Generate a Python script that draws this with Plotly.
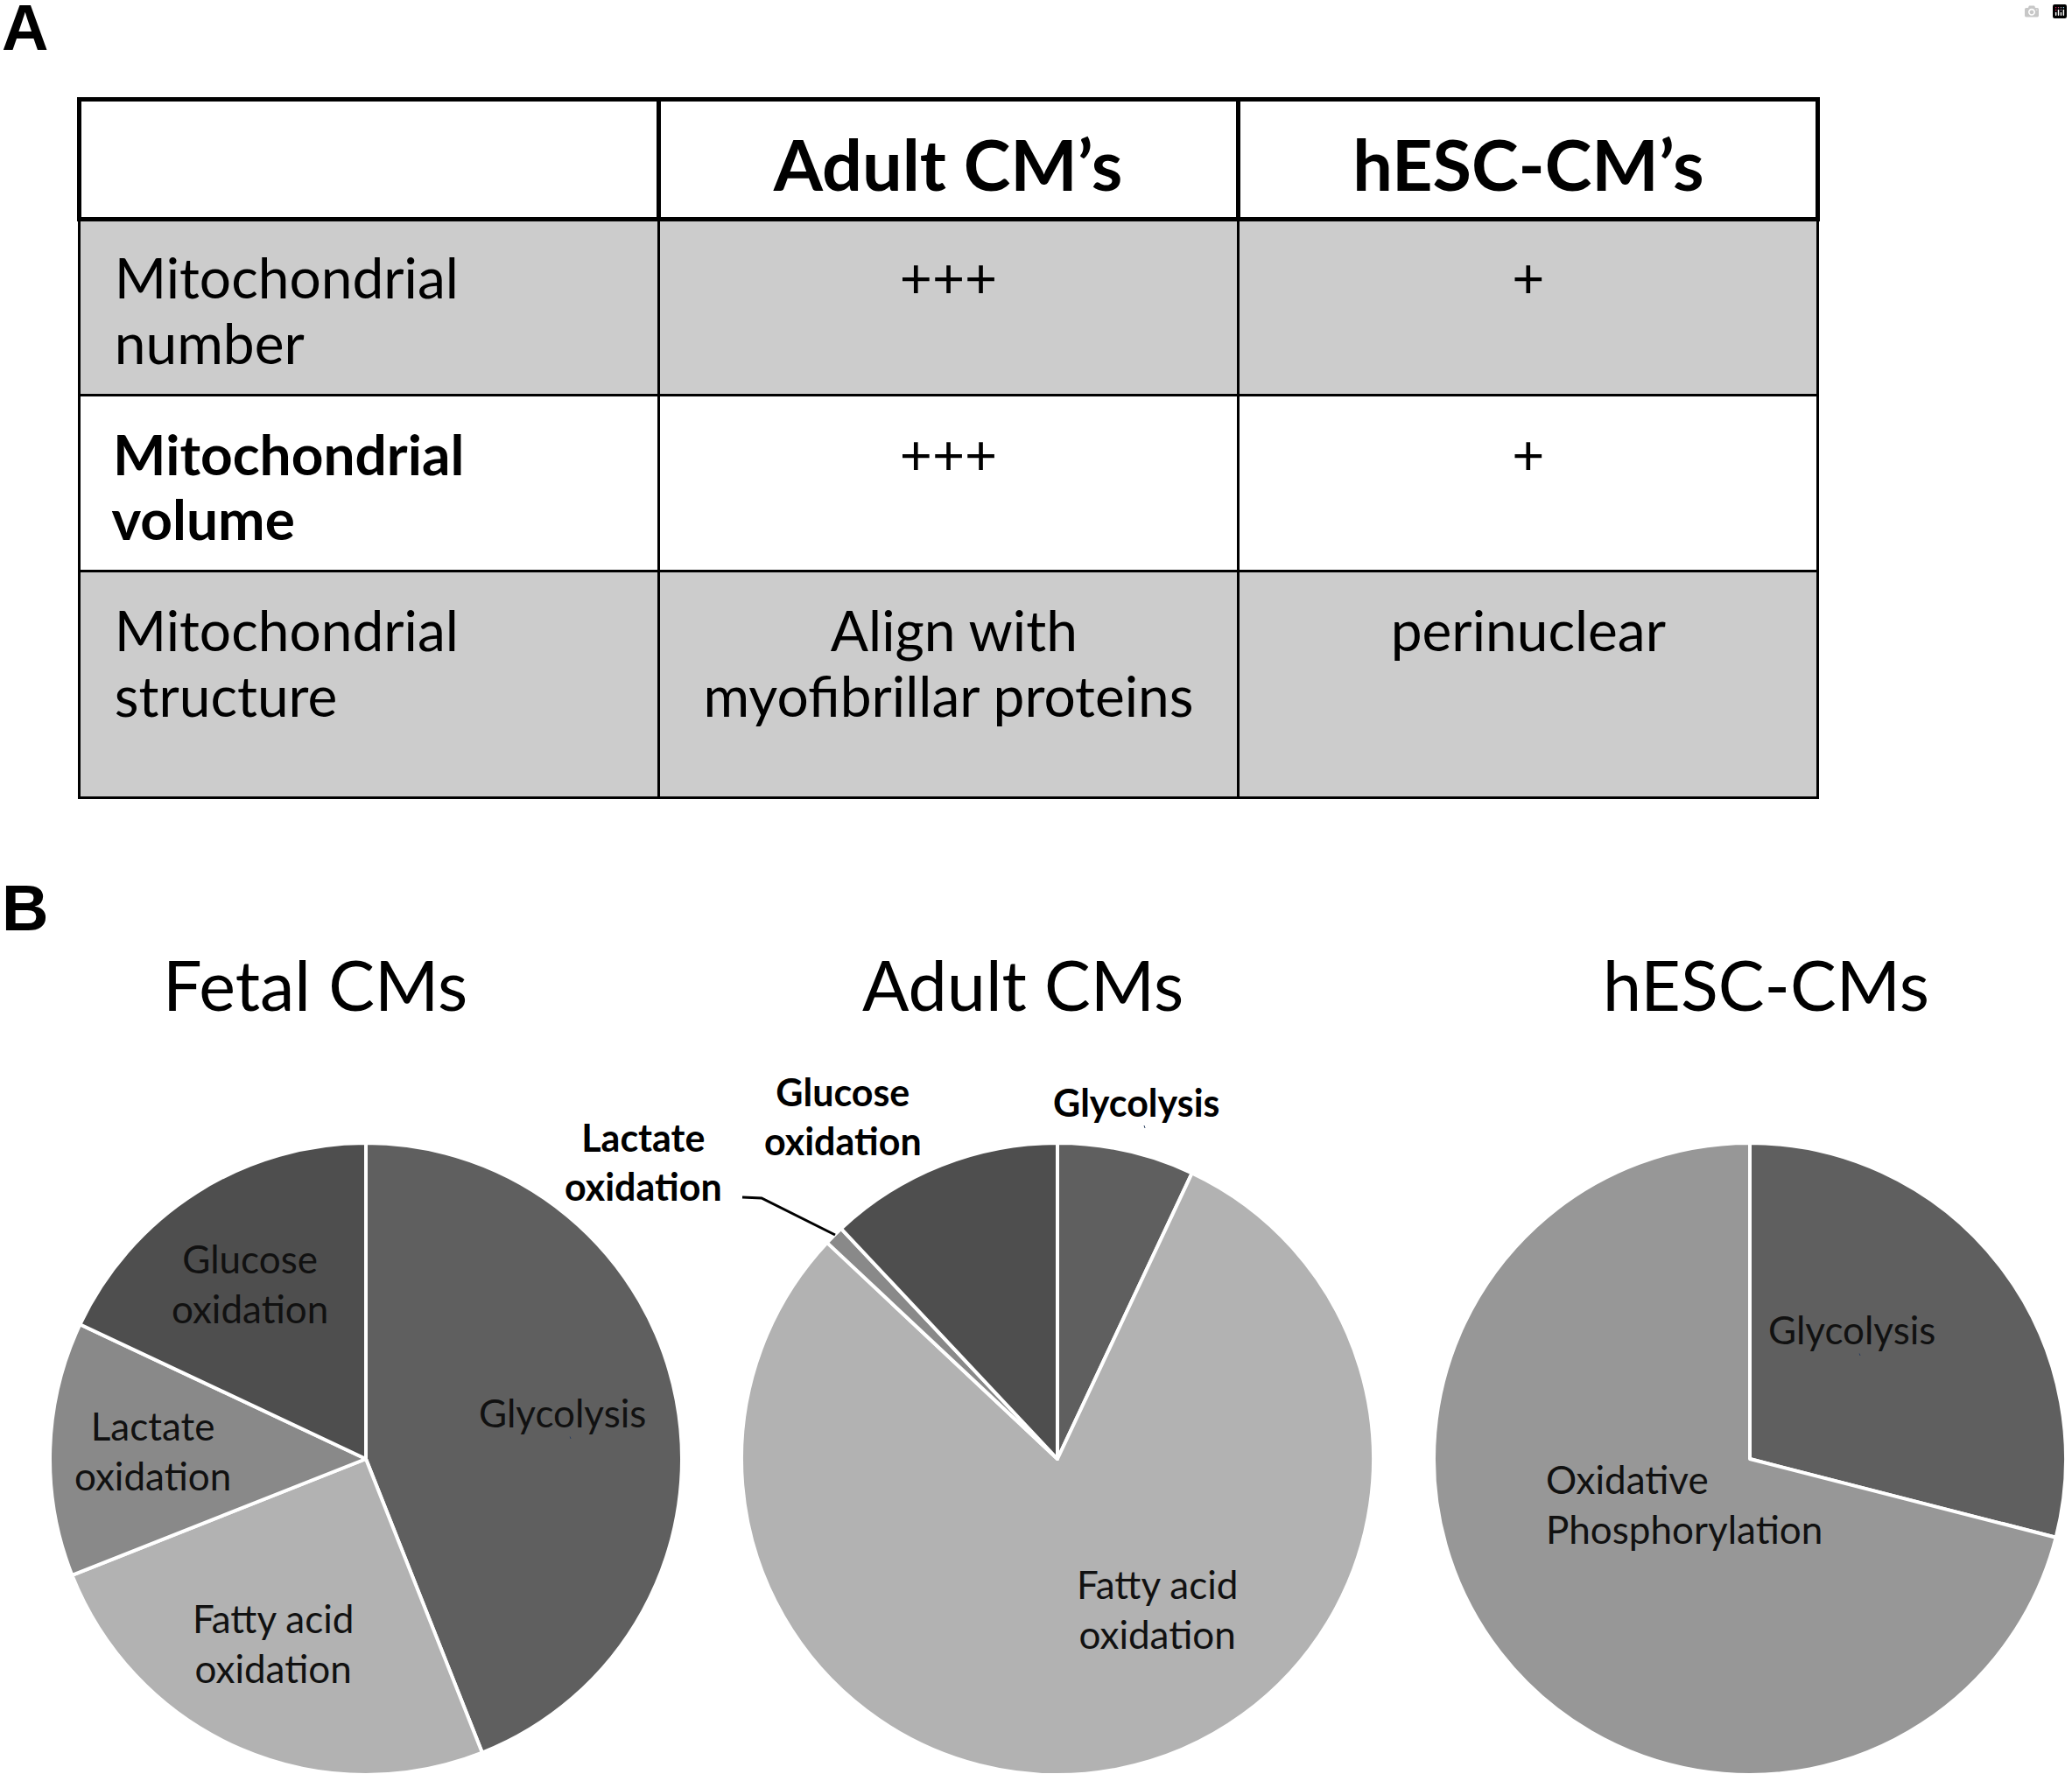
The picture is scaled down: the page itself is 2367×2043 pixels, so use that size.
import plotly.graph_objects as go

W, H = 2367, 2043

# ---------------- data ----------------
table_header = ["", "Adult CM’s", "hESC-CM’s"]
row_labels = [["Mitochondrial", "number"], ["Mitochondrial", "volume"], ["Mitochondrial", "structure"]]
row_bold = [False, True, False]
adult_col = [["+++"], ["+++"], ["Align with", "myofibrillar proteins"]]
hesc_col = [["+"], ["+"], ["perinuclear"]]

fetal_labels = ["Glycolysis", "Fatty acid oxidation", "Lactate oxidation", "Glucose oxidation"]
fetal_values = [44, 25, 13, 18]
adult_labels = ["Glycolysis", "Fatty acid oxidation", "Lactate oxidation", "Glucose oxidation"]
adult_values = [7, 80, 1, 12]
hesc_labels = ["Glycolysis", "Oxidative Phosphorylation"]
hesc_values = [29, 71]

pie_titles = ["Fetal CMs", "Adult CMs", "hESC-CMs"]

colors = {
    "Glycolysis": "#5f5f5f",
    "Fatty acid oxidation": "#b2b2b2",
    "Lactate oxidation": "#898989",
    "Glucose oxidation": "#4e4e4e",
    "Oxidative Phosphorylation": "#979797",
}

FONT = "Lato"
NB = "\u00a0"


def px(x):
    return x / W


def py(y):
    return 1 - y / H


# Table text is typeset with a tiny base font so that line breaks act as fine
# vertical steps (1.3 * BASE each); visible text is enlarged with spans.
BASE = 6.4       # -> step 8.32 px
GLYPH = 64
GAP = 9          # steps between visible lines (~75 px)
ROW_TAIL = [4, 4, 11]   # steps of invisible tail -> row heights ~201, ~201, ~259


def cell(lines, bold=False, pad="", lead=10, tail=0):
    parts = []
    for ln in lines:
        t = f"{pad}{ln}"
        if bold:
            t = f"<b>{t}</b>"
        parts.append(f"<span style='font-size:{GLYPH}px'>{t}</span>")
    s = "<br>" * lead + ("<br>" * GAP).join(parts)
    if tail:
        s += "<br>" * tail + f"<span style='font-size:{GLYPH}px'>{NB}</span>"
    return s


col1 = [cell(l, b, pad=NB * 2, tail=t) for l, b, t in zip(row_labels, row_bold, ROW_TAIL)]
col2 = [cell(adult_col[0]), cell(adult_col[1]),
        cell([NB * 9 + adult_col[2][0], adult_col[2][1]])]
col3 = [cell(hesc_col[0]), cell(hesc_col[1]), cell(hesc_col[2])]

HB = 6.2          # header base font (step ~8.06 px)
hdr = [""] + ["<br>" * 12 + f"<span style='font-size:81px'><b>{h}</b></span>"
              + "<br>" * 3 + f"<span style='font-size:81px'>{NB}</span>" for h in table_header[1:]]

fig = go.Figure()

row_fill = ["#cccccc", "#ffffff", "#cccccc"]
fig.add_trace(go.Table(
    domain=dict(x=[px(90), px(2077)], y=[py(1000), py(113)]),
    columnwidth=[1, 1, 1],
    header=dict(
        values=hdr,
        align="center",
        height=20,
        fill_color="white",
        line=dict(color="black", width=5),
        font=dict(family=FONT, size=HB, color="black"),
    ),
    cells=dict(
        values=[col1, col2, col3],
        align=["left", "center", "center"],
        height=20,
        fill_color=[row_fill, row_fill, row_fill],
        line=dict(color="black", width=3),
        font=dict(family=FONT, size=BASE, color="black"),
    ),
))

R = 361
centers = [(418, 1667), (1208, 1667), (1999, 1667)]
pie_data = [(fetal_labels, fetal_values), (adult_labels, adult_values), (hesc_labels, hesc_values)]
for (cx, cy), (labs, vals) in zip(centers, pie_data):
    fig.add_trace(go.Pie(
        labels=labs,
        values=vals,
        sort=False,
        direction="clockwise",
        rotation=0,
        textinfo="none",
        hoverinfo="label+percent",
        showlegend=False,
        marker=dict(colors=[colors[l] for l in labs], line=dict(color="white", width=4)),
        domain=dict(x=[px(cx - R), px(cx + R)], y=[py(cy + R), py(cy - R)]),
    ))

DX, DY = 10, 29
annotations = []
annotations.append(dict(text="<b>A</b>", x=px(10), y=py(18), xanchor="left", yanchor="top",
                        font=dict(family="Liberation Sans", size=74, color="black")))
annotations.append(dict(text="<b>B</b>", x=px(10), y=py(1024), xanchor="left", yanchor="top",
                        font=dict(family="Liberation Sans", size=74, color="black")))
for title, tx in zip(pie_titles, [360, 1168, 2017]):
    annotations.append(dict(text=title, x=px(tx + DX), y=py(1125 + DY), xanchor="center", yanchor="middle",
                            font=dict(family=FONT, size=79, color="black")))

inside = [
    ("Glucose<br>oxidation", 285, 1467),
    ("Lactate<br>oxidation", 174, 1658),
    ("Glycolysis", 642, 1615),
    ("Fatty acid<br>oxidation", 312, 1878),
    ("Fatty acid<br>oxidation", 1322, 1839),
    ("Glycolysis", 2115, 1520),
]
for t, x, y in inside:
    annotations.append(dict(text=t, x=px(x + DX), y=py(y + DY), xanchor="center", yanchor="middle",
                            align="center", font=dict(family=FONT, size=44, color="#111111")))
annotations.append(dict(text="Oxidative<br>Phosphorylation", x=px(1764 + DX), y=py(1719 + DY), xanchor="left",
                        yanchor="middle", align="left", font=dict(family=FONT, size=44, color="#111111")))

outside = [
    ("<b>Glycolysis</b>", 1298, 1260),
    ("<b>Glucose<br>oxidation</b>", 963, 1276),
    ("<b>Lactate<br>oxidation</b>", 735, 1328),
]
for t, x, y in outside:
    annotations.append(dict(text=t, x=px(x + DX), y=py(y + DY), xanchor="center", yanchor="middle",
                            align="center", font=dict(family=FONT, size=43, color="black")))

shapes = [dict(type="path", xref="paper", yref="paper",
               path=f"M {px(848)} {py(1368)} L {px(870)} {py(1369)} L {px(954)} {py(1411)}",
               line=dict(color="black", width=3))]

fig.update_layout(
    width=W, height=H,
    margin=dict(l=0, r=0, t=0, b=0),
    paper_bgcolor="white",
    plot_bgcolor="white",
    annotations=annotations,
    shapes=shapes,
)

fig.write_html("out.html", post_script="document.body.style.margin='0';")
